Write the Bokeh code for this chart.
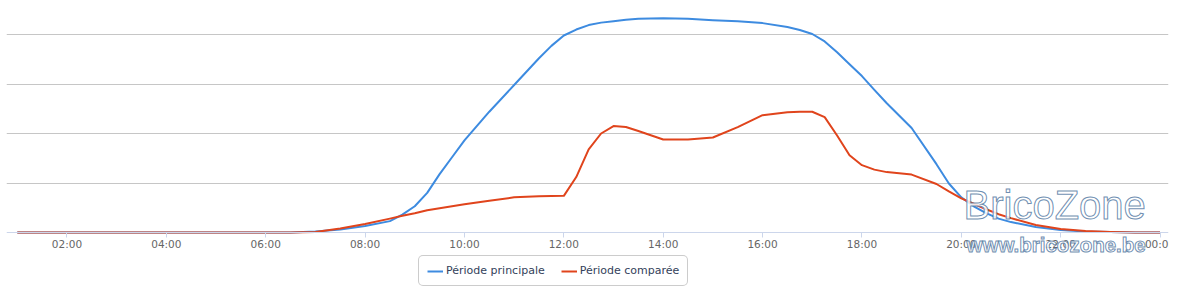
from bokeh.plotting import figure
from bokeh.models import Range1d, FixedTicker, Legend, LegendItem, Label
from bokeh.embed import file_html
from bokeh.resources import INLINE

# --- data (units = gridline steps) ---
times = ["01:00", "01:30", "02:00", "02:30", "03:00", "03:30", "04:00", "04:30",
         "05:00", "05:30", "06:00", "06:30",
         "07:00", "07:30", "08:00", "08:30", "08:45", "09:00", "09:15", "09:30",
         "09:45", "10:00", "10:30", "11:00", "11:30", "11:45", "12:00", "12:15",
         "12:30", "12:45", "13:00", "13:15", "13:30", "14:00", "14:30", "15:00",
         "15:30", "16:00", "16:30", "16:45", "17:00", "17:15", "17:30", "17:45",
         "18:00", "18:15", "18:30", "19:00", "19:30", "19:45", "20:00", "20:15",
         "20:30", "20:45", "21:00", "21:30", "22:00", "22:30", "23:00", "23:30",
         "24:00"]

periode_principale = [0, 0, 0, 0, 0, 0, 0, 0, 0, 0, 0, 0,
                      0.02, 0.06, 0.13, 0.23, 0.36, 0.53, 0.80, 1.18,
                      1.52, 1.86, 2.44, 2.98, 3.52, 3.77, 3.98, 4.10,
                      4.19, 4.24, 4.27, 4.30, 4.32, 4.33, 4.32, 4.29,
                      4.27, 4.23, 4.15, 4.09, 4.01, 3.86, 3.64, 3.40,
                      3.16, 2.88, 2.61, 2.11, 1.38, 0.99, 0.71, 0.53,
                      0.39, 0.28, 0.21, 0.11, 0.05, 0.02, 0.01, 0,
                      0]

periode_comparee = [0, 0, 0, 0, 0, 0, 0, 0, 0, 0, 0, 0,
                    0.01, 0.08, 0.17, 0.28, 0.34, 0.39, 0.45, 0.49,
                    0.53, 0.57, 0.64, 0.71, 0.73, 0.735, 0.74, 1.12,
                    1.68, 2.00, 2.15, 2.13, 2.05, 1.88, 1.88, 1.92,
                    2.13, 2.37, 2.43, 2.44, 2.44, 2.33, 1.96, 1.56,
                    1.36, 1.27, 1.22, 1.17, 0.98, 0.83, 0.69, 0.58,
                    0.47, 0.37, 0.29, 0.15, 0.07, 0.03, 0.01, 0,
                    0]

tick_hours = [2, 4, 6, 8, 10, 12, 14, 16, 18, 20, 22, 24]
tick_labels = ["02:00", "04:00", "06:00", "08:00", "10:00", "12:00",
               "14:00", "16:00", "18:00", "20:00", "22:00", "00:00"]
grid_levels = [1, 2, 3, 4]

hours = [int(t[:2]) + int(t[3:]) / 60 for t in times]

p = figure(width=1200, height=291, x_range=Range1d(0.783, 24.17),
           y_range=Range1d(-59 / 49.5, 232 / 49.5),
           output_backend="svg", toolbar_location=None,
           min_border_left=6, min_border_right=32, min_border_top=0, min_border_bottom=0)
p.outline_line_color = None
p.background_fill_color = "white"
p.border_fill_color = "white"

p.yaxis.visible = False
p.xgrid.visible = False
p.ygrid.ticker = FixedTicker(ticks=grid_levels)
p.ygrid.grid_line_color = "#c6c6c6"
p.ygrid.grid_line_width = 1

ax = p.xaxis[0]
ax.fixed_location = 0
ax.ticker = FixedTicker(ticks=tick_hours)
ax.major_label_overrides = {h: l for h, l in zip(tick_hours, tick_labels)}
ax.axis_line_color = "#ccd6eb"
ax.major_tick_line_color = "#ccd6eb"
ax.major_tick_in = 0
ax.major_tick_out = 5
ax.minor_tick_line_color = None
ax.major_label_standoff = 0
ax.major_label_text_font = "DejaVu Sans"
ax.major_label_text_font_size = "10.5px"
ax.major_label_text_color = "#666666"

r1 = p.line(hours, periode_principale, line_color="#3d8be0", line_width=2, line_join="round")
r2 = p.line(hours, periode_comparee, line_color="#e0441c", line_width=2, line_join="round")

legend = Legend(items=[LegendItem(label="Période principale", renderers=[r1]),
                       LegendItem(label="Période comparée", renderers=[r2])],
                orientation="horizontal", location=(412, 5),
                border_line_color="#9a9a9a", border_line_width=1, border_radius=5,
                background_fill_color="white", background_fill_alpha=1,
                padding=8, spacing=16, margin=0,
                glyph_width=16, glyph_height=10, label_height=10, label_standoff=3,
                label_text_font="DejaVu Sans", label_text_font_size="11px",
                label_text_color="#33415a")
p.add_layout(legend)

wm1 = Label(x=957, y=65, x_units="screen", y_units="screen", text="BricoZone",
            text_font="Liberation Sans", text_font_size="40px",
            text_color="white", text_alpha=0.85, text_outline_color="#557aa3")
wm2 = Label(x=960, y=36, x_units="screen", y_units="screen", text="www.bricozone.be",
            text_font="Liberation Sans", text_font_size="20.5px", text_font_style="bold",
            text_color="white", text_alpha=0.85, text_outline_color="#557aa3")
p.add_layout(wm1)
p.add_layout(wm2)

open("out.html", "w").write(file_html(p, INLINE))
